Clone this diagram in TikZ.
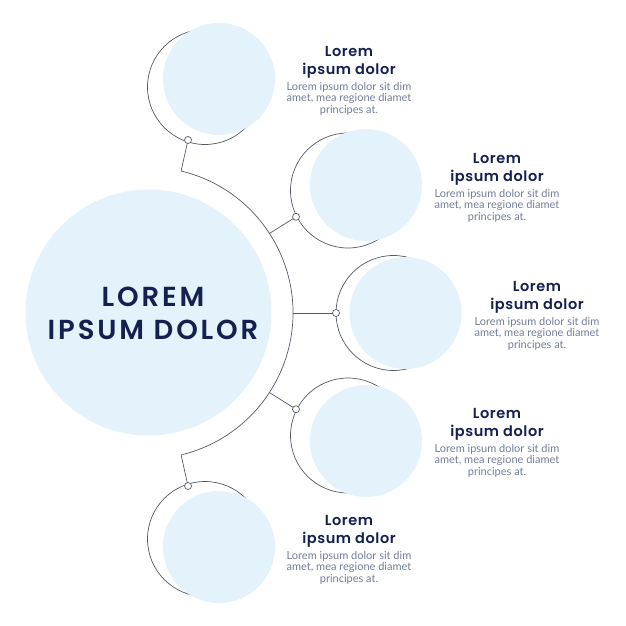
\documentclass[tikz,border=0pt]{standalone}
\usepackage{fontspec}
\setmainfont{Lato}
\newfontfamily\ttlfont{Poppins}[UprightFont={* SemiBold}, LetterSpace=4]
\newfontfamily\bigfont{Poppins}[UprightFont={* SemiBold}, LetterSpace=10.5]
\newfontfamily\bodyfont{Lato}
\definecolor{fillblue}{HTML}{E4F2FC}
\definecolor{linegray}{HTML}{555A69}
\definecolor{navy}{HTML}{14204F}
\definecolor{bodygray}{HTML}{717D97}
\tikzset{
  fillc/.style={circle, fill=fillblue, draw=none, inner sep=0pt, outer sep=0pt, minimum size=112pt},
  outc/.style={circle, draw=linegray, line width=0.7pt, fill=white, inner sep=0pt, outer sep=0pt, minimum size=115pt},
  dotc/.style={circle, draw=linegray, line width=0.7pt, fill=white, inner sep=0pt, outer sep=0pt, minimum size=7pt},
  conn/.style={draw=linegray, line width=0.7pt},
  ttl/.style={anchor=north, align=center, inner sep=0pt, text=navy, font=\ttlfont\fontsize{14.5}{18}\selectfont},
  body/.style={anchor=north, align=center, inner sep=0pt, text=bodygray, font=\bodyfont\fontsize{11}{11.6}\selectfont},
  bigttl/.style={anchor=north, align=center, inner sep=0pt, text=navy, font=\bigfont\fontsize{27.5}{33.3}\selectfont}
}
\begin{document}
\begin{tikzpicture}[x=1pt,y=-1pt]
\useasboundingbox (0,0) rectangle (626,626);
% big circle
\node[fillc, minimum size=246pt] (big) at (148.5,312.5) {};
\node[bigttl] (bigt) at (153,287) {LOREM\\IPSUM DOLOR};
% spine
\coordinate (s1) at (181.1,171);
\coordinate (s2) at (269.4,233.5);
\coordinate (s3) at (293,313);
\coordinate (s4) at (269.4,392.5);
\coordinate (s5) at (181.1,455);
\draw[conn] (s1) arc[start angle=-76.5, end angle=76.5, radius=146];
% item outline circles
\node[outc] (o1) at (205,87) {};
\node[outc] (o2) at (348,190.5) {};
\node[outc] (o3) at (393.5,313) {};
\node[outc] (o4) at (348,435.5) {};
\node[outc] (o5) at (205,539) {};
% item fill circles
\node[fillc] (f1) at (219,79) {};
\node[fillc] (f2) at (366,185) {};
\node[fillc] (f3) at (405.5,313) {};
\node[fillc] (f4) at (366,441) {};
\node[fillc] (f5) at (219,547) {};
% dots
\node[dotc] (d1) at (188,140) {};
\node[dotc] (d2) at (296,216.8) {};
\node[dotc] (d3) at (336,313) {};
\node[dotc] (d4) at (296,409.2) {};
\node[dotc] (d5) at (188,486) {};
% connectors
\draw[conn] (s1) -- (d1);
\draw[conn] (s2) -- (d2);
\draw[conn] (s3) -- (d3);
\draw[conn] (s4) -- (d4);
\draw[conn] (s5) -- (d5);
% texts
\node[ttl] (t1) at (349,46.5) {Lorem\\ipsum dolor};
\node[body] (b1) at (349,82) {Lorem ipsum dolor sit dim\\amet, mea regione diamet\\principes at.};
\node[ttl] (t2) at (497,153.5) {Lorem\\ipsum dolor};
\node[body] (b2) at (497,189) {Lorem ipsum dolor sit dim\\amet, mea regione diamet\\principes at.};
\node[ttl] (t3) at (537,281.5) {Lorem\\ipsum dolor};
\node[body] (b3) at (537,317) {Lorem ipsum dolor sit dim\\amet, mea regione diamet\\principes at.};
\node[ttl] (t4) at (497,408.5) {Lorem\\ipsum dolor};
\node[body] (b4) at (497,444) {Lorem ipsum dolor sit dim\\amet, mea regione diamet\\principes at.};
\node[ttl] (t5) at (349,515.5) {Lorem\\ipsum dolor};
\node[body] (b5) at (349,551) {Lorem ipsum dolor sit dim\\amet, mea regione diamet\\principes at.};
\end{tikzpicture}
\end{document}
